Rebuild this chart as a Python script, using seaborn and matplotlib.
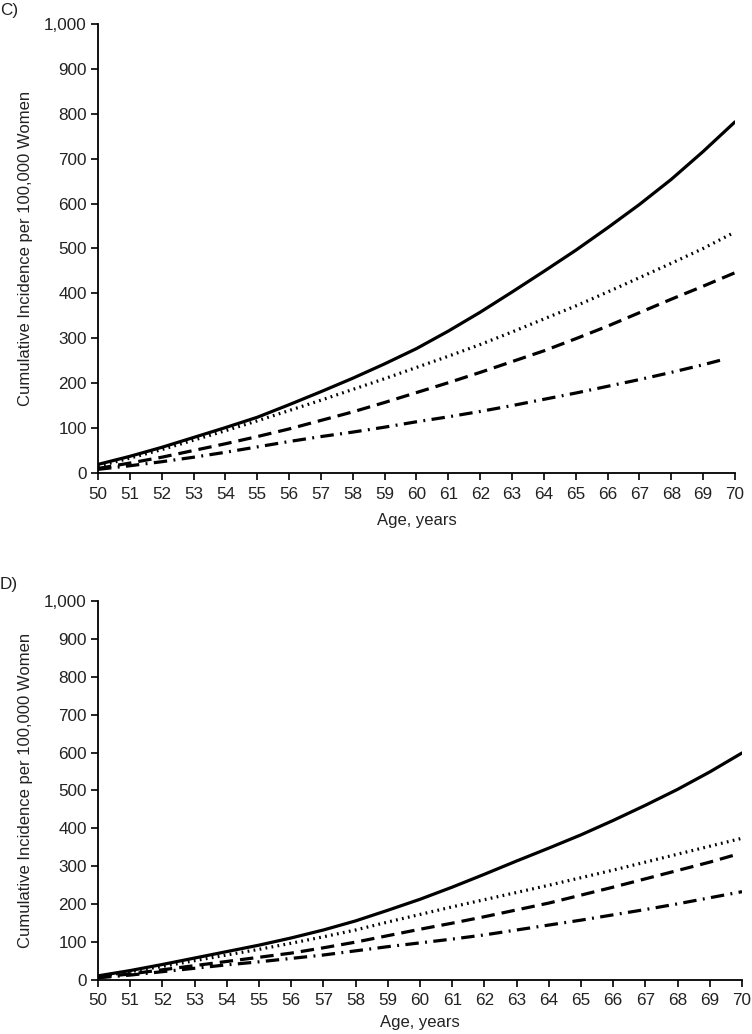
import numpy as np
import pandas as pd
import matplotlib
matplotlib.use("Agg")
import matplotlib.pyplot as plt
from matplotlib.ticker import FuncFormatter
import seaborn as sns

# ---- data ----
ages = list(range(50, 71))

c_solid = [19, 37, 57, 79, 101, 124, 152, 181, 211, 243, 277, 316, 358, 403, 449, 496, 546, 598, 654, 716, 782]
c_dotted_ages = ages[:-1] + [69.9]
c_dotted = [15, 33, 52, 73, 94, 116, 139, 162, 186, 210, 235, 260, 286, 314, 343, 372, 403, 435, 467, 500, 533]
c_dashed = [10, 22, 35, 50, 65, 81, 98, 117, 136, 157, 179, 201, 224, 248, 272, 299, 327, 357, 387, 416, 446]
c_dashdot_ages = ages[:-1] + [69.7]
c_dashdot = [8, 16, 25, 35, 46, 58, 70, 81, 91, 102, 114, 125, 137, 150, 164, 178, 193, 208, 224, 241, 254]

d_solid = [11, 25, 41, 58, 75, 92, 111, 132, 156, 184, 213, 245, 279, 314, 348, 383, 421, 461, 503, 549, 599]
d_dotted = [9, 22, 36, 51, 66, 81, 97, 114, 132, 153, 173, 193, 212, 231, 250, 270, 290, 311, 332, 353, 374]
d_dashed_ages = ages[:-1] + [69.9]
d_dashed = [7, 16, 27, 38, 49, 60, 71, 85, 100, 117, 134, 150, 167, 185, 203, 224, 245, 267, 289, 311, 333]
d_dashdot = [6, 13, 22, 31, 40, 48, 57, 66, 77, 88, 98, 108, 119, 132, 145, 158, 172, 186, 201, 217, 233]

x_ticks = list(range(50, 71))
y_ticks = list(range(0, 1001, 100))
panel_labels = ["C)", "D)"]
x_label = "Age, years"
y_label = "Cumulative Incidence per 100,000 Women"

series_order = ["solid", "dotted", "dashed", "dashdot"]


def build(sets):
    frames = []
    for name, (xs, ys) in zip(series_order, sets):
        frames.append(pd.DataFrame({"age": xs, "value": ys, "series": name}))
    return pd.concat(frames, ignore_index=True)


df_c = build([(ages, c_solid), (c_dotted_ages, c_dotted), (ages, c_dashed), (c_dashdot_ages, c_dashdot)])
df_d = build([(ages, d_solid), (ages, d_dotted), (d_dashed_ages, d_dashed), (ages, d_dashdot)])

sns.set_style("ticks")
plt.rcParams["font.family"] = ["Liberation Sans", "DejaVu Sans"]

fig = plt.figure(figsize=(7.52, 10.34), dpi=100)
ax_c = fig.add_axes([0.1303, 0.5426, 0.8471, 0.4342])
ax_d = fig.add_axes([0.1303, 0.0522, 0.8564, 0.3666])

lw = 2.3
dash_map = {
    "solid": "",
    "dotted": (0.55, 1.35),
    "dashed": (4.2, 2.2),
    "dashdot": (4.2, 2.0, 0.6, 2.0),
}

fs = 12.3
txt = "#222222"
for ax, df, lp in [(ax_c, df_c, 8), (ax_d, df_d, 5.5)]:
    sns.lineplot(data=df, x="age", y="value", style="series", style_order=series_order,
                 dashes=dash_map, color="black", linewidth=lw, ax=ax, legend=False,
                 estimator=None, sort=False)
    ax.set_xlim(50, 70)
    ax.set_ylim(0, 1000)
    ax.set_xticks(x_ticks)
    ax.set_yticks(y_ticks)
    ax.yaxis.set_major_formatter(FuncFormatter(lambda v, p: f"{int(v):,}"))
    ax.tick_params(axis="both", labelsize=fs, length=5, width=1.2, color="black",
                   labelcolor=txt, direction="out")
    ax.tick_params(axis="x", pad=5 if ax is ax_c else 4)
    ax.tick_params(axis="y", pad=3)
    for s in ["top", "right"]:
        ax.spines[s].set_visible(False)
    for s in ["left", "bottom"]:
        ax.spines[s].set_color("black")
        ax.spines[s].set_linewidth(1.3)
    ax.set_xlabel(x_label, fontsize=12, color=txt, labelpad=lp)
    ax.set_ylabel(y_label, fontsize=12, color=txt, labelpad=8)

fig.text(0.0, 1 - 10 / 1034, panel_labels[0], fontsize=fs, color=txt, ha="left", va="center")
fig.text(0.0, 1 - 585 / 1034, panel_labels[1], fontsize=fs, color=txt, ha="left", va="center")

fig.savefig("out.png", dpi=100)
